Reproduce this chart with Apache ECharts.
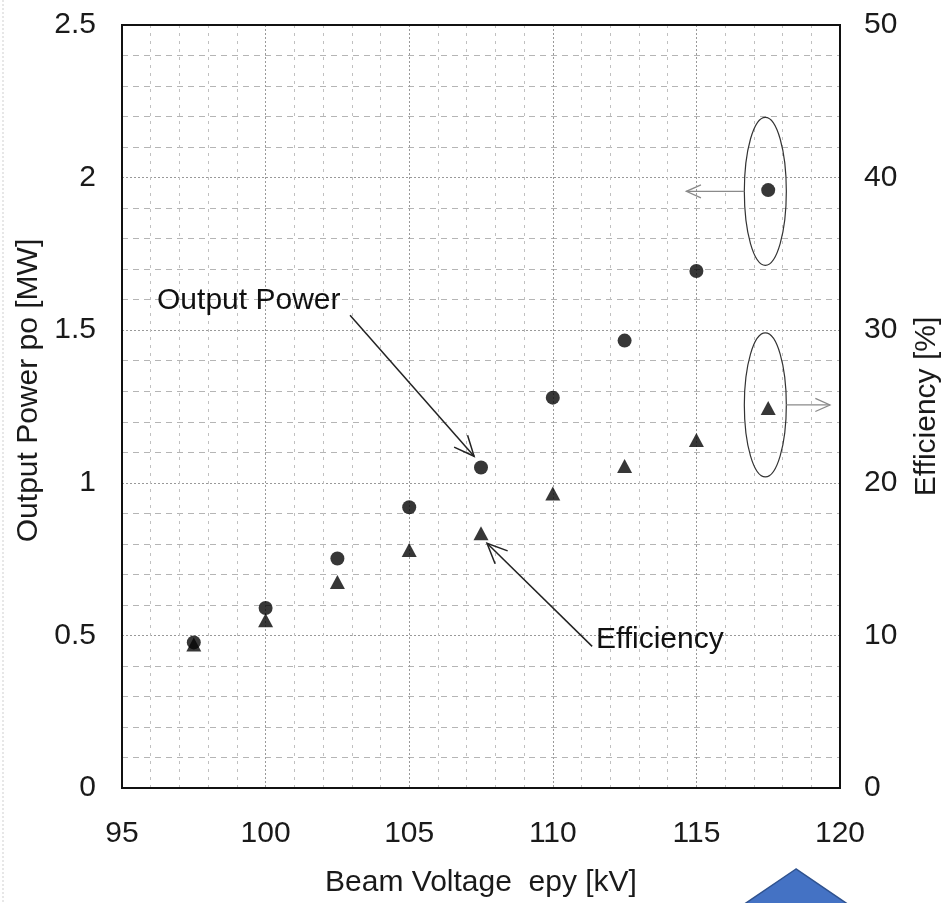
<!DOCTYPE html>
<html><head><meta charset="utf-8">
<script src="https://cdn.jsdelivr.net/npm/echarts@6/dist/echarts.min.js"></script>
<style>html,body{margin:0;padding:0;background:#fff}#c{width:946px;height:903px}</style>
</head><body><div id="c"></div>
<script>
// ---- data ----
const beamVoltage = [97.5, 100, 102.5, 105, 107.5, 110, 112.5, 115, 117.5];
const outputPower = [0.477, 0.59, 0.752, 0.92, 1.05, 1.279, 1.466, 1.694, 1.959]; // MW
const efficiency  = [9.4, 11.0, 13.5, 15.6, 16.7, 19.3, 21.1, 22.8, 24.9];       // %
const xTicks = [95, 100, 105, 110, 115, 120];
const yLeftTicks = [0, 0.5, 1, 1.5, 2, 2.5];
const yRightTicks = [0, 10, 20, 30, 40, 50];

const FONT = "'Liberation Sans', Arial, Helvetica, sans-serif";
const FS = 30;
const chart = echarts.init(document.getElementById('c'), null, {renderer: 'canvas'});

const powerPts = beamVoltage.map((v, i) => [v, outputPower[i]]);
const effPts = beamVoltage.map((v, i) => [v, efficiency[i]]);

chart.setOption({
  animation: false,
  backgroundColor: '#fff',
  grid: {left: 122, right: 106, top: 25, bottom: 115, containLabel: false, outerBoundsMode: 'none',
    show: true, borderColor: '#111', borderWidth: 2, backgroundColor: 'transparent', z: 5},
  xAxis: {
    type: 'value', min: xTicks[0], max: xTicks[xTicks.length - 1], interval: 5,
    name: 'Beam Voltage  epy [kV]', nameLocation: 'middle', nameGap: 80,
    nameTextStyle: {fontFamily: FONT, fontSize: FS, color: '#1a1a1a'},
    axisLine: {show: true, lineStyle: {color: '#111', width: 2}},
    axisTick: {show: false},
    axisLabel: {fontFamily: FONT, fontSize: FS, color: '#1a1a1a', margin: 31},
    splitLine: {show: true, lineStyle: {color: '#999', width: 1, type: [2, 2]}},
    minorTick: {show: false, splitNumber: 5},
    minorSplitLine: {show: true, lineStyle: {color: '#c0c0c0', width: 1, type: [3, 5]}}
  },
  yAxis: [{
    type: 'value', min: yLeftTicks[0], max: yLeftTicks[yLeftTicks.length - 1], interval: 0.5, position: 'left',
    name: 'Output Power po [MW]', nameLocation: 'middle', nameGap: 78, nameRotate: 90,
    nameTextStyle: {fontFamily: FONT, fontSize: FS, color: '#1a1a1a', padding: [0, 0, 0, 32]},
    axisLine: {show: true, lineStyle: {color: '#111', width: 2}},
    axisTick: {show: false},
    axisLabel: {fontFamily: FONT, fontSize: FS, color: '#1a1a1a', margin: 26,
      formatter: v => String(v)},
    splitLine: {show: true, lineStyle: {color: '#999', width: 1, type: [2, 2]}},
    minorTick: {show: false, splitNumber: 5},
    minorSplitLine: {show: true, lineStyle: {color: '#b5b5b5', width: 1, type: [6, 5]}}
  }, {
    type: 'value', min: yRightTicks[0], max: yRightTicks[yRightTicks.length - 1], interval: 10, position: 'right',
    name: 'Efficiency [%]', nameLocation: 'middle', nameGap: 72, nameRotate: 90,
    nameTextStyle: {fontFamily: FONT, fontSize: FS, color: '#1a1a1a'},
    axisLine: {show: true, lineStyle: {color: '#111', width: 2}},
    axisTick: {show: false},
    axisLabel: {fontFamily: FONT, fontSize: FS, color: '#1a1a1a', margin: 24},
    splitLine: {show: false}
  }],
  series: [{
    name: 'Efficiency', type: 'scatter', yAxisIndex: 1, data: effPts,
    symbol: 'triangle', symbolSize: [15, 14], itemStyle: {color: '#050505'}, z: 3
  }, {
    name: 'Output Power', type: 'scatter', yAxisIndex: 0, data: powerPts,
    symbol: 'circle', symbolSize: 14, itemStyle: {color: '#050505'}, z: 4
  }]
});

// ---- annotations (anchored in data units) ----
const px = (kv, mw) => chart.convertToPixel({xAxisIndex: 0, yAxisIndex: 0}, [kv, mw]);
function arrow(from, to, color, w, headLen) {
  const dx = to[0] - from[0], dy = to[1] - from[1];
  const L = Math.hypot(dx, dy), ux = dx / L, uy = dy / L;
  const a = 0.42;
  const h1 = [to[0] - headLen * (ux * Math.cos(a) - uy * Math.sin(a)), to[1] - headLen * (uy * Math.cos(a) + ux * Math.sin(a))];
  const h2 = [to[0] - headLen * (ux * Math.cos(a) + uy * Math.sin(a)), to[1] - headLen * (uy * Math.cos(a) - ux * Math.sin(a))];
  return [
    {type: 'line', shape: {x1: from[0], y1: from[1], x2: to[0], y2: to[1]}, style: {stroke: color, lineWidth: w}, z: 20},
    {type: 'polyline', shape: {points: [h1, to, h2]}, style: {stroke: color, lineWidth: w, fill: null}, z: 20}
  ];
}
const pOPfrom = px(102.94, 1.549), pOPto = px(107.26, 1.087);
const pEfTo = px(107.71, 0.802), pEfFrom = px(111.37, 0.464);
const ell1 = px(117.4, 1.955), ell2 = px(117.4, 1.255);
const g = [];
g.push(...arrow(pOPfrom, pOPto, '#222', 1.5, 22));
g.push(...arrow(pEfFrom, pEfTo, '#222', 1.5, 22));
g.push({type: 'text', style: {text: 'Output Power', x: px(96.22, 0)[0], y: px(0, 1.597)[1], font: FS + 'px ' + FONT, fill: '#111', verticalAlign: 'middle'}, z: 20});
g.push({type: 'text', style: {text: 'Efficiency', x: px(111.5, 0)[0], y: px(0, 0.487)[1], font: FS + 'px ' + FONT, fill: '#111', verticalAlign: 'middle'}, z: 20});
g.push({type: 'ellipse', shape: {cx: ell1[0], cy: ell1[1], rx: 21, ry: 74}, style: {stroke: '#333', lineWidth: 1.2, fill: null}, z: 20});
g.push({type: 'ellipse', shape: {cx: ell2[0], cy: ell2[1], rx: 21, ry: 72}, style: {stroke: '#333', lineWidth: 1.2, fill: null}, z: 20});
g.push(...arrow([ell1[0] - 21, ell1[1]], [px(114.65, 0)[0], ell1[1]], '#8a8a8a', 1.3, 16));
g.push(...arrow([ell2[0] + 21, ell2[1]], [px(119.65, 0)[0], ell2[1]], '#8a8a8a', 1.3, 16));
// faint scan edge on the left
g.push({type: 'line', shape: {x1: 3, y1: 0, x2: 3, y2: 903}, style: {stroke: '#d0d0d0', lineWidth: 1, lineDash: [2, 2]}, z: 1});
// blue triangle shape at bottom (clipped)
g.push({type: 'polygon', shape: {points: [[796, 869], [743, 905], [849, 905]]}, style: {fill: '#4472C4', stroke: '#2F528F', lineWidth: 1.5}, z: 20});
chart.setOption({graphic: g});
</script>
</body></html>
